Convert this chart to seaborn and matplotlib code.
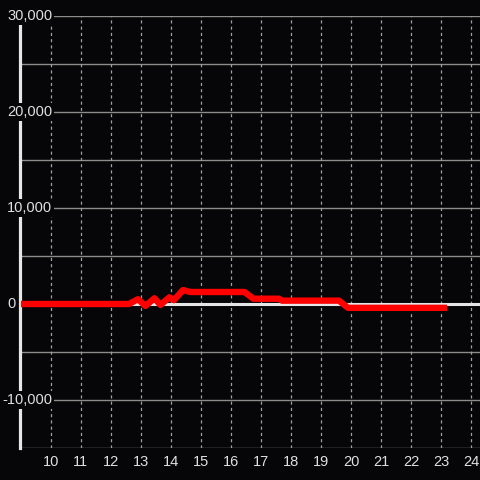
import matplotlib
matplotlib.use("Agg")
import matplotlib.pyplot as plt
import matplotlib.transforms as mtransforms
import seaborn as sns
import pandas as pd

# values
hours = [9.0, 12.6, 12.9, 13.15, 13.45, 13.65, 13.95, 14.1, 14.4, 14.65,
         16.45, 16.75, 17.6, 17.7, 19.6, 19.9, 23.2]
values = [0, 0, 500, -200, 600, -100, 700, 400, 1450, 1250,
          1250, 550, 550, 350, 350, -400, -400]
x_ticks = list(range(10, 25))
y_grid = [-15000, -10000, -5000, 0, 5000, 10000, 15000, 20000, 25000, 30000]
y_labels = [-10000, 0, 10000, 20000, 30000]

bg = "#060609"
sns.set_style("dark")
plt.rcParams["font.family"] = ["Liberation Sans", "DejaVu Sans"]

df = pd.DataFrame({"hour": hours, "value": values})

fig = plt.figure(figsize=(4.8, 4.8), dpi=100, facecolor=bg)
ax = fig.add_axes([20 / 480, 32 / 480, 460 / 480, 432 / 480])
ax.set_facecolor(bg)

ax.axhline(0, color="#e6e6e6", lw=2.2, zorder=1.5)
sns.lineplot(data=df, x="hour", y="value", ax=ax, color="#ff0000", lw=4.6,
             solid_capstyle="butt", solid_joinstyle="round", zorder=3)

ax.set_xlim(8.97, 24.3)
ax.set_ylim(-15000, 30000)
ax.set_xticks(x_ticks)
ax.set_yticks([])

ax.grid(False)
for v in y_grid:
    ax.axhline(v, color="#8a8d88", lw=1, zorder=0.5)
for v in x_ticks:
    ax.axvline(v, color="#a0a0a0", lw=0.9, ls=(0, (2.5, 2.5)), zorder=0.6)

for s in ["top", "right", "bottom"]:
    ax.spines[s].set_visible(False)
ax.spines["left"].set_color("#e6e6e6")
ax.spines["left"].set_linewidth(2.3)
ax.spines["left"].set_zorder(1)

ax.tick_params(axis="both", length=0, colors="#e0e0e0", labelsize=10.5)
ax.tick_params(axis="x", pad=5)

# y labels sit over the axis line with a dark box behind them
trans = mtransforms.blended_transform_factory(fig.transFigure, ax.transData)
for v in y_labels:
    txt = f"{v:,}".replace("\u2212", "-")
    x0 = 2 / 480 if v < 0 else 7 / 480
    ax.text(x0, v, txt, transform=trans, ha="left", va="center",
            color="#e0e0e0", fontsize=10.5, zorder=4, clip_on=False,
            bbox=dict(facecolor=bg, edgecolor="none", pad=1.5))

ax.set_xlabel("")
ax.set_ylabel("")

plt.savefig("out.png", dpi=100, facecolor=bg)
